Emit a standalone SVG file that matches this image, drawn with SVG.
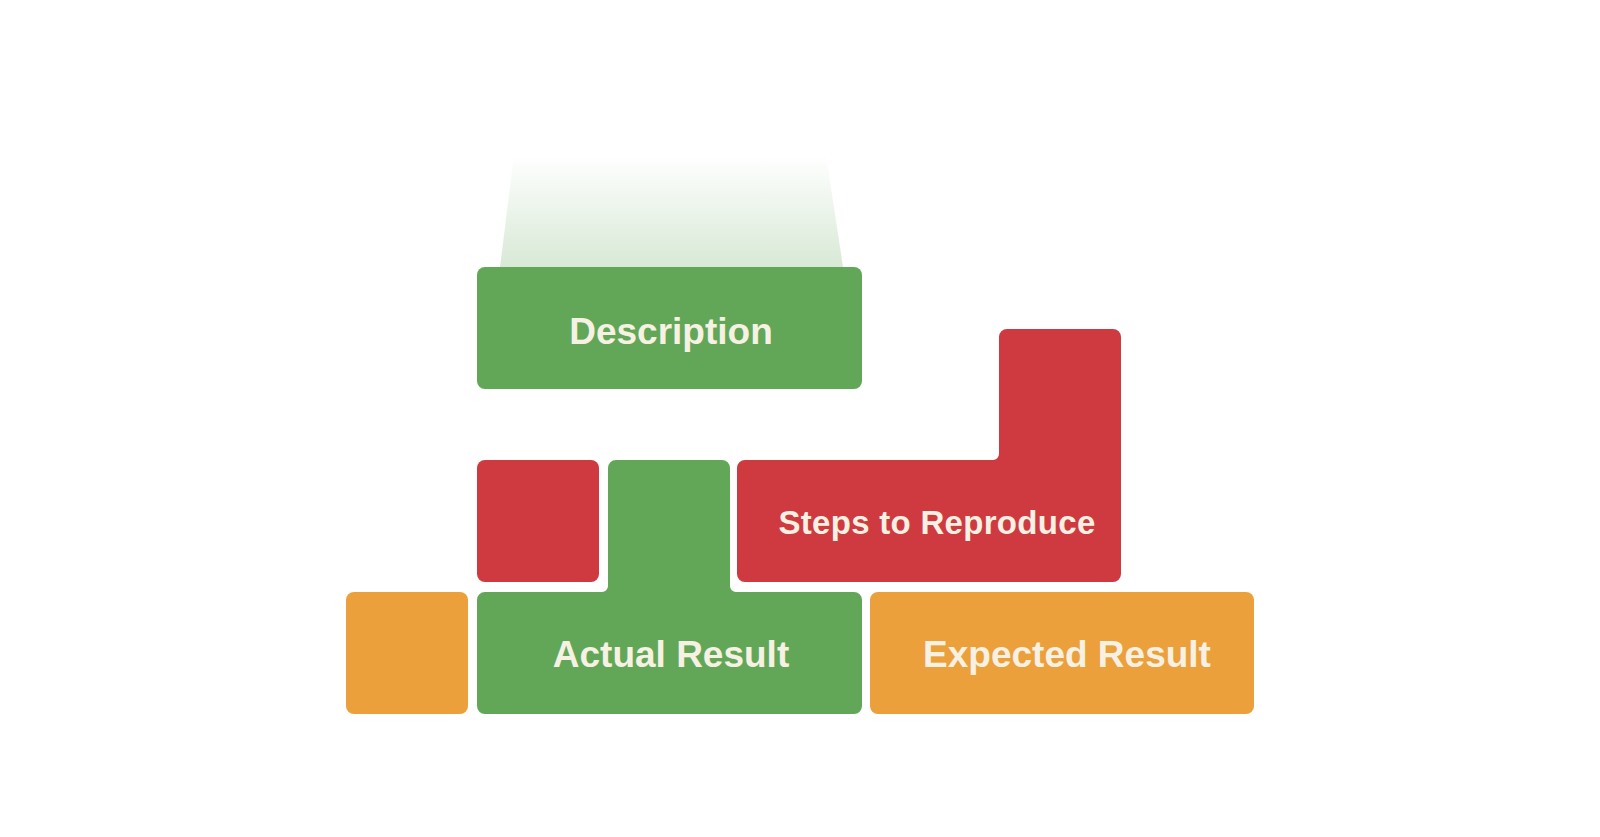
<svg xmlns="http://www.w3.org/2000/svg" width="1600" height="837" viewBox="0 0 1600 837">
<defs>
<linearGradient id="glow" x1="0" y1="0" x2="0" y2="1">
<stop offset="0" stop-color="#62a758" stop-opacity="0"/>
<stop offset="1" stop-color="#62a758" stop-opacity="0.25"/>
</linearGradient>
<style>
.g{fill:#62a758}
.r{fill:#cf3a40}
.o{fill:#eca03c}
.t{fill:#f6f1e3;font-family:"Liberation Sans",Arial,sans-serif;font-weight:bold;text-anchor:middle}
</style>
</defs>
<rect width="1600" height="837" fill="#ffffff"/>
<polygon points="514,155 826,155 843,267 500,267" fill="url(#glow)"/>
<g id="description">
<rect class="g" x="477" y="267" width="385" height="122" rx="8"/>
<text class="t" x="671" y="344" font-size="37">Description</text>
</g>
<g id="red-square">
<rect class="r" x="477" y="460" width="122" height="122" rx="8"/>
</g>
<g id="actual-result">
<path class="g" d="M616,460 H722 A8 8 0 0 1 730,468 V586 A6 6 0 0 0 736,592 H854 A8 8 0 0 1 862,600 V706 A8 8 0 0 1 854,714 H485 A8 8 0 0 1 477,706 V600 A8 8 0 0 1 485,592 H602 A6 6 0 0 0 608,586 V468 A8 8 0 0 1 616,460 Z"/>
<text class="t" x="671" y="667" font-size="37">Actual Result</text>
</g>
<g id="steps">
<path class="r" d="M1007,329 H1113 A8 8 0 0 1 1121,337 V574 A8 8 0 0 1 1113,582 H745 A8 8 0 0 1 737,574 V468 A8 8 0 0 1 745,460 H993 A6 6 0 0 0 999,454 V337 A8 8 0 0 1 1007,329 Z"/>
<text class="t" x="937" y="534" font-size="33" letter-spacing="0.3">Steps to Reproduce</text>
</g>
<g id="orange-square">
<rect class="o" x="346" y="592" width="122" height="122" rx="8"/>
</g>
<g id="expected-result">
<rect class="o" x="870" y="592" width="384" height="122" rx="8"/>
<text class="t" x="1067" y="667" font-size="37">Expected Result</text>
</g>
<g id="connectors"/>
</svg>
